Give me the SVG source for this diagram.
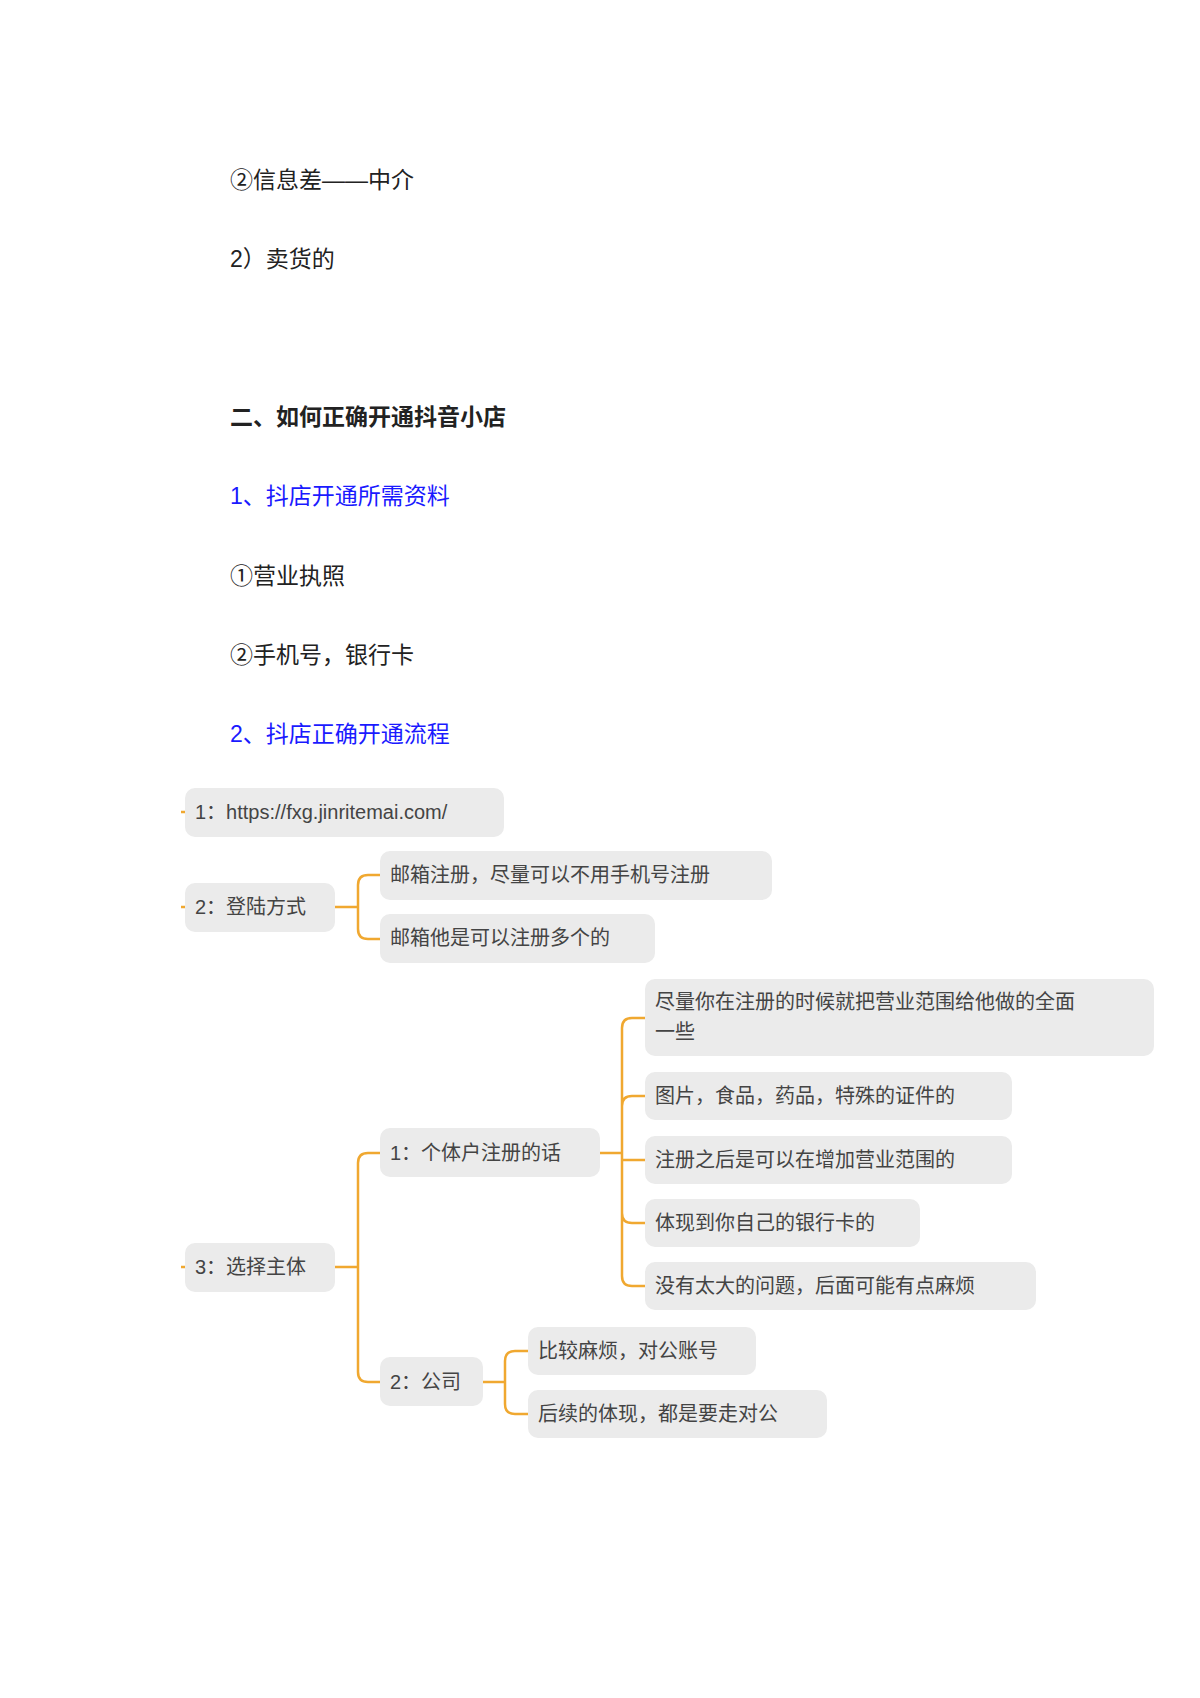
<svg xmlns="http://www.w3.org/2000/svg" width="1200" height="1698" viewBox="0 0 1200 1698">
<style>
.t{font-family:"Liberation Sans","Noto Sans CJK SC",sans-serif;font-size:23px;fill:#222}
.b{font-weight:bold}
.blue{fill:#1a1aff}
.n rect{fill:#ebebeb}
.n text{font-family:"Liberation Sans","Noto Sans CJK SC",sans-serif;font-size:20px;fill:#444}
.c path{fill:none;stroke:#f0a830;stroke-width:2.5}
</style>
<rect width="1200" height="1698" fill="#fff"/>
<text class="t" x="230" y="188">②信息差——中介</text>
<text class="t" x="230" y="267">2）卖货的</text>
<text class="t b" x="230" y="425">二、如何正确开通抖音小店</text>
<text class="t blue" x="230" y="504">1、抖店开通所需资料</text>
<text class="t" x="230" y="584">①营业执照</text>
<text class="t" x="230" y="663">②手机号，银行卡</text>
<text class="t blue" x="230" y="742">2、抖店正确开通流程</text>
<g class="c">
<path d="M181 812h4M181 907h4M181 1267h4"/>
<path d="M335 907H358M358 907V885Q358 875 368 875H380M358 907V929Q358 939 368 939H380"/>
<path d="M335 1267H358M358 1267V1163Q358 1153 368 1153H380M358 1267V1372Q358 1382 368 1382H380"/>
<path d="M600 1153H622M622 1153V1028Q622 1018 632 1018H645M622 1153V1106Q622 1096 632 1096H645M622 1153V1160H645M622 1153V1213Q622 1223 632 1223H645M622 1153V1276Q622 1286 632 1286H645"/>
<path d="M483 1382H505M505 1382V1361Q505 1351 515 1351H528M505 1382V1404Q505 1414 515 1414H528"/>
</g>
<g class="n" id="n1"><rect x="185" y="788" width="319" height="49" rx="10"/><text x="195" y="819">1：https://fxg.jinritemai.com/</text></g>
<g class="n" id="n2"><rect x="185" y="883" width="150" height="49" rx="10"/><text x="195" y="914">2：登陆方式</text></g>
<g class="n" id="n2a"><rect x="380" y="851" width="392" height="49" rx="10"/><text x="390" y="882">邮箱注册，尽量可以不用手机号注册</text></g>
<g class="n" id="n2b"><rect x="380" y="914" width="275" height="49" rx="10"/><text x="390" y="945">邮箱他是可以注册多个的</text></g>
<g class="n" id="n3"><rect x="185" y="1243" width="150" height="49" rx="10"/><text x="195" y="1274">3：选择主体</text></g>
<g class="n" id="n31"><rect x="380" y="1128" width="220" height="49" rx="10"/><text x="390" y="1160">1：个体户注册的话</text></g>
<g class="n" id="n32"><rect x="380" y="1357" width="103" height="49" rx="10"/><text x="390" y="1389">2：公司</text></g>
<g class="n" id="l1"><rect x="645" y="979" width="509" height="77" rx="10"/><text x="655" y="1009">尽量你在注册的时候就把营业范围给他做的全面</text><text x="655" y="1039">一些</text></g>
<g class="n" id="l2"><rect x="645" y="1072" width="367" height="48" rx="10"/><text x="655" y="1103">图片，食品，药品，特殊的证件的</text></g>
<g class="n" id="l3"><rect x="645" y="1136" width="367" height="48" rx="10"/><text x="655" y="1167">注册之后是可以在增加营业范围的</text></g>
<g class="n" id="l4"><rect x="645" y="1199" width="275" height="48" rx="10"/><text x="655" y="1230">体现到你自己的银行卡的</text></g>
<g class="n" id="l5"><rect x="645" y="1262" width="391" height="48" rx="10"/><text x="655" y="1293">没有太大的问题，后面可能有点麻烦</text></g>
<g class="n" id="m1"><rect x="528" y="1327" width="228" height="48" rx="10"/><text x="538" y="1358">比较麻烦，对公账号</text></g>
<g class="n" id="m2"><rect x="528" y="1390" width="299" height="48" rx="10"/><text x="538" y="1421">后续的体现，都是要走对公</text></g>
</svg>
